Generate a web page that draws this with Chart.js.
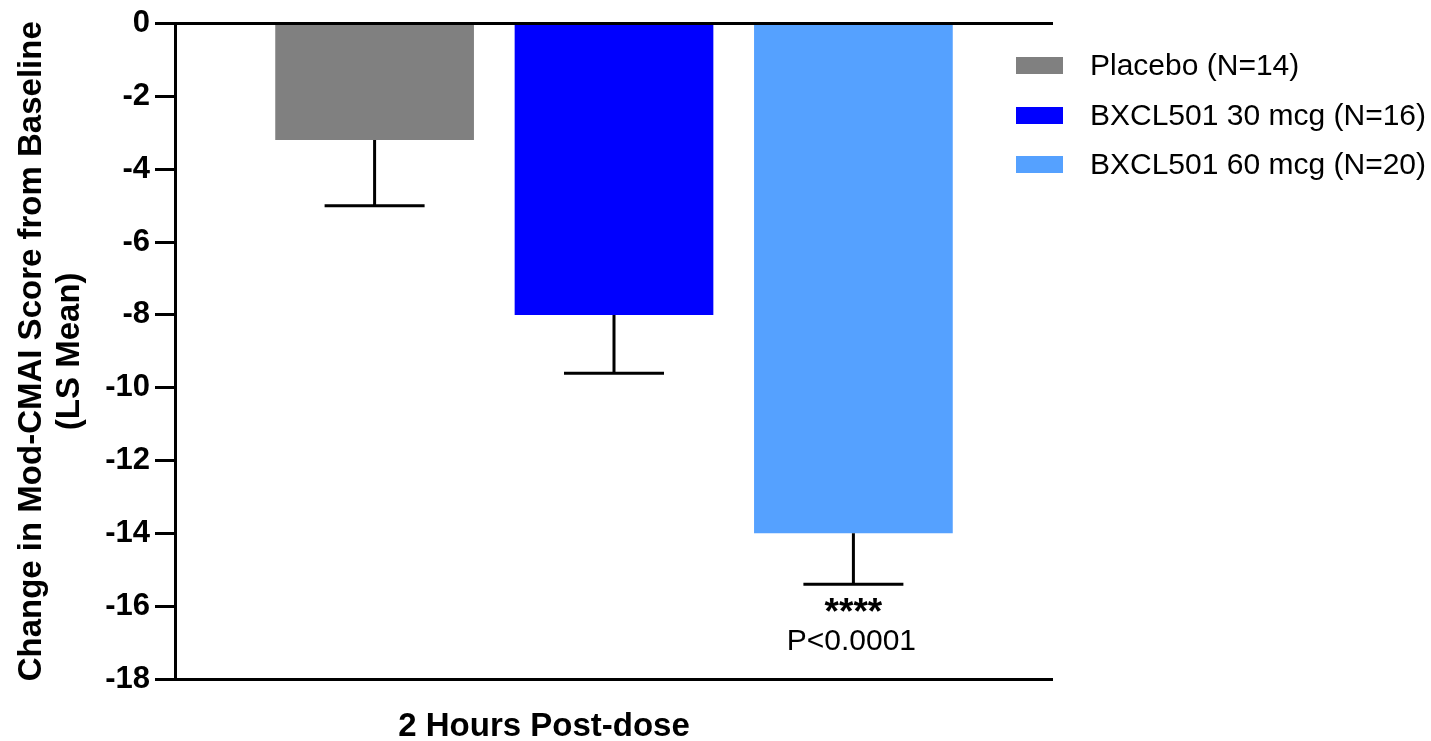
<!DOCTYPE html>
<html>
<head>
<meta charset="utf-8">
<script src="https://cdn.jsdelivr.net/npm/chart.js@4/dist/chart.umd.min.js"></script>
<style>
    html, body { margin: 0; padding: 0; background: #fff; }
    #wrap { width: 1431px; height: 741px; }
</style>
</head>
<body>
<div id="wrap"><canvas id="cmaiChart" width="1431" height="741"></canvas></div>
<script>
// Data
const categories = ['2 Hours Post-dose'];
const groupNames = ['Placebo (N=14)', 'BXCL501 30 mcg (N=16)', 'BXCL501 60 mcg (N=20)'];
const lsMeans = [-3.2, -8.0, -14.0];
const errorEnds = [-5.0, -9.6, -15.4];
const barColors = ['#808080', '#0000FF', '#55A1FF'];
const yTicks = [0, -2, -4, -6, -8, -10, -12, -14, -16, -18];
const sigStars = ['', '', '****'];
const sigText = ['', '', 'P<0.0001'];

const FONT = 'Arial, "Liberation Sans", Helvetica, sans-serif';

// Error bars (one-sided, downward) and significance labels
const errorBarPlugin = {
    id: 'errorBars',
    afterDatasetsDraw(chart) {
        const ctx = chart.ctx;
        const yScale = chart.scales.y;
        ctx.save();
        ctx.strokeStyle = '#000';
        ctx.lineWidth = 3;
        chart.data.datasets.forEach((ds, i) => {
            const bar = chart.getDatasetMeta(i).data[0];
            const yTop = yScale.getPixelForValue(lsMeans[i]);
            const yEnd = yScale.getPixelForValue(errorEnds[i]);
            ctx.beginPath();
            ctx.moveTo(bar.x, yTop);
            ctx.lineTo(bar.x, yEnd);
            ctx.moveTo(bar.x - 50, yEnd);
            ctx.lineTo(bar.x + 50, yEnd);
            ctx.stroke();

            ctx.fillStyle = '#000';
            ctx.textAlign = 'center';
            ctx.textBaseline = 'alphabetic';
            if (sigStars[i]) {
                ctx.font = 'bold 37px ' + FONT;
                ctx.fillText(sigStars[i], bar.x, yEnd + 40);
            }
            if (sigText[i]) {
                ctx.font = '30px ' + FONT;
                ctx.fillText(sigText[i], bar.x - 2, yEnd + 66);
            }
        });
        ctx.restore();
    }
};

// Legend on the right and the x-axis caption
const sideLegendPlugin = {
    id: 'sideLegend',
    afterDraw(chart) {
        const ctx = chart.ctx;
        const area = chart.chartArea;
        ctx.save();
        ctx.textAlign = 'left';
        ctx.textBaseline = 'middle';
        ctx.font = '30px ' + FONT;
        const rowY = [65.5, 115.5, 164.5];
        chart.data.datasets.forEach((ds, i) => {
            ctx.fillStyle = ds.backgroundColor;
            ctx.fillRect(area.right - 37, rowY[i] - 8.5, 47, 17);
            ctx.fillStyle = '#000';
            ctx.fillText(ds.label, area.right + 37, rowY[i] + 1);
        });

        ctx.font = 'bold 33px ' + FONT;
        ctx.textAlign = 'center';
        ctx.fillText(categories[0], 544, 727);
        ctx.restore();
    }
};

function initChart() {
    const ctx = document.getElementById('cmaiChart').getContext('2d');
    new Chart(ctx, {
        type: 'bar',
        data: {
            labels: categories,
            datasets: groupNames.map((name, i) => ({
                label: name,
                data: [lsMeans[i]],
                backgroundColor: barColors[i],
                borderWidth: 0,
                categoryPercentage: 0.818,
                barPercentage: 0.83
            }))
        },
        options: {
            responsive: false,
            animation: false,
            layout: {
                padding: { left: 0, right: 378, top: 22, bottom: 62 }
            },
            plugins: {
                legend: { display: false },
                tooltip: { enabled: false }
            },
            scales: {
                x: {
                    display: false
                },
                y: {
                    min: -18,
                    max: 0,
                    z: 1,
                    afterFit: scale => { scale.width = 175; },
                    afterBuildTicks: scale => {
                        scale.ticks = yTicks.map(v => ({ value: v }));
                    },
                    border: { display: true, color: '#000', width: 3 },
                    grid: {
                        color: c => (c.tick && (c.tick.value === 0 || c.tick.value === -18)) ? '#000' : 'rgba(0,0,0,0)',
                        tickColor: '#000',
                        lineWidth: 3,
                        drawTicks: true,
                        tickLength: 20
                    },
                    ticks: {
                        color: '#000',
                        padding: 5,
                        font: { family: FONT, size: 31, weight: 'bold' }
                    },
                    title: {
                        display: true,
                        text: ['Change in Mod-CMAI Score from Baseline', '(LS Mean)'],
                        color: '#000',
                        font: { family: FONT, size: 33, weight: 'bold', lineHeight: 1.15 },
                        padding: { top: 13, bottom: 0 }
                    }
                }
            }
        },
        plugins: [errorBarPlugin, sideLegendPlugin]
    });
}

initChart();
</script>
</body>
</html>
